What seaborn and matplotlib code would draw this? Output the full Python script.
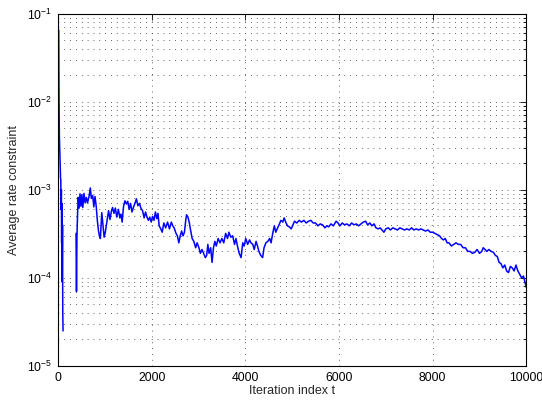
import numpy as np
import pandas as pd
import matplotlib
matplotlib.use('Agg')
import matplotlib.pyplot as plt
import matplotlib.ticker as mticker
import seaborn as sns

# first piece (before the values drop out of the log axis)
t_start = [15, 22, 30, 38, 46, 54, 60, 66, 72, 78, 84, 90, 96, 102, 108]
rate_start = [6.5e-2, 1.05e-2, 4.0e-3, 2.8e-3, 2.0e-3, 1.35e-3, 1.3e-3, 6e-4,
              1.0e-3, 2.5e-4, 7e-4, 9e-5, 4e-4, 4e-5, 2.5e-5]

# main piece
t_main = [385, 395, 405, 420, 432, 450, 470, 490, 510, 530, 555, 580, 605, 630,
          665, 690, 712, 740, 765, 790, 815, 840, 865, 890, 905, 935, 960, 985,
          1010, 1050, 1080, 1110, 1140, 1165, 1195, 1225, 1255, 1290, 1320, 1345,
          1370, 1400, 1430, 1460, 1490, 1520, 1550, 1580, 1610, 1650, 1675, 1705,
          1740, 1770, 1805, 1840, 1870, 1900, 1930, 1960, 1990, 2020, 2050, 2080,
          2110, 2135, 2160, 2195, 2225, 2260, 2300, 2340, 2380, 2420, 2450, 2480,
          2520, 2550, 2580, 2610, 2640, 2670, 2700, 2730, 2745, 2775, 2805, 2835,
          2865, 2900, 2940, 2970, 3010, 3040, 3075, 3110, 3145, 3175, 3200, 3225,
          3260, 3290, 3320, 3350, 3380, 3420, 3460, 3500, 3540, 3580, 3620, 3650,
          3690, 3730, 3770, 3800, 3840, 3870, 3910, 3945, 3975, 4010, 4050, 4090,
          4120, 4160, 4190, 4230, 4260, 4290, 4330, 4370, 4400, 4440, 4480, 4520,
          4550, 4590, 4620, 4650, 4680, 4720, 4760, 4800, 4830, 4870, 4900, 4940,
          4980, 5010, 5050, 5100, 5150, 5200, 5250, 5300, 5350, 5400, 5450, 5500,
          5550, 5600, 5650, 5700, 5740, 5780, 5830, 5880, 5940, 5980, 6020, 6070,
          6120, 6170, 6220, 6270, 6320, 6370, 6420, 6470, 6520, 6570, 6610, 6660,
          6700, 6750, 6790, 6840, 6880, 6920, 6960, 7000, 7050, 7100, 7150, 7200,
          7250, 7300, 7350, 7400, 7450, 7500, 7550, 7600, 7650, 7700, 7750, 7800,
          7850, 7900, 7950, 8000, 8050, 8100, 8150, 8190, 8230, 8270, 8310, 8350,
          8400, 8450, 8500, 8550, 8600, 8650, 8700, 8750, 8800, 8850, 8900, 8950,
          9000, 9050, 9080, 9120, 9160, 9200, 9250, 9300, 9340, 9380, 9420, 9460,
          9500, 9540, 9580, 9620, 9660, 9700, 9740, 9780, 9820, 9860, 9900, 9940,
          9970, 10000]
rate_main = [3.2e-4, 7.0e-5, 3.0e-4, 5.8e-4, 8.2e-4, 6.2e-4, 9.0e-4, 6.5e-4, 8.8e-4,
             6.3e-4, 9.1e-4, 7.1e-4, 8.2e-4, 7.1e-4, 8.5e-4, 1.05e-3, 8.0e-4, 8.6e-4,
             6.4e-4, 8.4e-4, 6.6e-4, 4.5e-4, 3.4e-4, 2.9e-4, 2.8e-4, 5.5e-4, 4.0e-4,
             2.9e-4, 3.3e-4, 4.6e-4, 5.8e-4, 4.6e-4, 5.7e-4, 6.3e-4, 5.4e-4, 6.2e-4,
             4.9e-4, 6.0e-4, 4.8e-4, 5.3e-4, 4.3e-4, 6.5e-4, 7.5e-4, 6.9e-4, 7.4e-4,
             6.0e-4, 7.0e-4, 5.6e-4, 6.3e-4, 7.2e-4, 7.9e-4, 6.6e-4, 7.0e-4, 6.2e-4,
             5.8e-4, 4.8e-4, 5.6e-4, 4.9e-4, 4.5e-4, 4.9e-4, 4.3e-4, 5.0e-4, 4.5e-4,
             5.6e-4, 4.7e-4, 5.4e-4, 3.9e-4, 3.6e-4, 3.3e-4, 4.2e-4, 3.7e-4, 4.3e-4,
             3.6e-4, 4.3e-4, 3.9e-4, 3.7e-4, 3.2e-4, 3.0e-4, 2.5e-4, 3.0e-4, 3.4e-4,
             3.0e-4, 3.3e-4, 4.6e-4, 5.2e-4, 4.9e-4, 4.2e-4, 3.4e-4, 2.8e-4, 2.6e-4,
             2.2e-4, 2.5e-4, 2.2e-4, 1.9e-4, 2.1e-4, 1.9e-4, 1.7e-4, 1.8e-4, 2.4e-4,
             1.9e-4, 2.2e-4, 1.5e-4, 2.2e-4, 2.6e-4, 2.3e-4, 2.8e-4, 2.5e-4, 2.8e-4,
             2.5e-4, 3.2e-4, 2.8e-4, 3.3e-4, 2.9e-4, 3.0e-4, 2.4e-4, 2.8e-4, 2.2e-4,
             1.9e-4, 1.7e-4, 2.5e-4, 2.3e-4, 2.8e-4, 2.4e-4, 2.7e-4, 2.5e-4, 2.4e-4,
             2.1e-4, 2.6e-4, 2.3e-4, 2.0e-4, 1.8e-4, 1.7e-4, 2.2e-4, 2.5e-4, 2.6e-4,
             2.8e-4, 2.5e-4, 3.3e-4, 3.9e-4, 3.3e-4, 3.6e-4, 4.0e-4, 4.5e-4, 4.3e-4,
             4.8e-4, 4.2e-4, 3.9e-4, 3.8e-4, 3.6e-4, 3.9e-4, 4.4e-4, 4.2e-4, 4.5e-4,
             4.3e-4, 4.5e-4, 4.2e-4, 4.4e-4, 4.5e-4, 4.2e-4, 4.2e-4, 3.9e-4, 4.1e-4,
             4.0e-4, 3.7e-4, 3.9e-4, 3.8e-4, 4.1e-4, 3.9e-4, 4.4e-4, 4.2e-4, 3.9e-4,
             4.2e-4, 4.0e-4, 4.1e-4, 3.9e-4, 4.2e-4, 4.0e-4, 4.1e-4, 3.9e-4, 4.1e-4,
             4.3e-4, 4.4e-4, 4.0e-4, 4.2e-4, 3.9e-4, 4.1e-4, 3.7e-4, 3.6e-4, 3.7e-4,
             3.5e-4, 3.3e-4, 3.6e-4, 3.7e-4, 3.5e-4, 3.7e-4, 3.6e-4, 3.5e-4, 3.7e-4,
             3.6e-4, 3.5e-4, 3.6e-4, 3.5e-4, 3.7e-4, 3.5e-4, 3.6e-4, 3.5e-4, 3.6e-4,
             3.5e-4, 3.4e-4, 3.5e-4, 3.3e-4, 3.3e-4, 3.2e-4, 3.1e-4, 3.0e-4, 2.8e-4,
             2.7e-4, 2.8e-4, 2.5e-4, 2.5e-4, 2.3e-4, 2.4e-4, 2.5e-4, 2.4e-4, 2.4e-4,
             2.2e-4, 2.2e-4, 2.0e-4, 2.0e-4, 1.9e-4, 1.95e-4, 2.1e-4, 1.9e-4, 2.0e-4,
             2.2e-4, 2.1e-4, 2.0e-4, 2.1e-4, 2.0e-4, 1.95e-4, 1.8e-4, 1.75e-4, 1.5e-4,
             1.45e-4, 1.3e-4, 1.4e-4, 1.2e-4, 1.15e-4, 1.35e-4, 1.3e-4, 1.2e-4,
             1.4e-4, 1.2e-4, 1.1e-4, 1.0e-4, 1.05e-4, 9.0e-5, 7.8e-5]

df = pd.concat([
    pd.DataFrame({'t': t_start, 'rate': rate_start, 'seg': 0}),
    pd.DataFrame({'t': t_main, 'rate': rate_main, 'seg': 1}),
])

sns.set_style('white')
plt.rcParams['font.family'] = ['Liberation Sans', 'DejaVu Sans']
plt.rcParams['mathtext.default'] = 'regular'

fig = plt.figure(figsize=(5.42, 4.0), dpi=100)
ax = fig.add_axes([0.107, 0.085, 0.864, 0.881])

sns.lineplot(data=df, x='t', y='rate', units='seg', estimator=None,
             color='#0000ff', linewidth=1.1, ax=ax)

ax.set_yscale('log')
ax.set_xlim(0, 10000)
ax.set_ylim(1e-5, 1e-1)
ax.set_xticks([0, 2000, 4000, 6000, 8000, 10000])
ax.yaxis.set_major_locator(mticker.LogLocator(base=10, numticks=10))
ax.yaxis.set_minor_locator(mticker.LogLocator(base=10, subs=np.arange(2, 10), numticks=10))
ax.yaxis.set_minor_formatter(mticker.NullFormatter())

dots = (0, (1, 6))
ax.grid(True, which='major', axis='both', color='#333333', linestyle=dots, linewidth=0.6)
ax.grid(True, which='minor', axis='y', color='#333333', linestyle=dots, linewidth=0.6)

ax.tick_params(which='both', direction='in', top=True, right=True, labelsize=8.8,
               colors='k', width=0.6)
ax.tick_params(which='major', length=4, pad=4)
ax.tick_params(which='minor', length=2)
for s in ax.spines.values():
    s.set_color('k')
    s.set_linewidth(0.8)

ax.set_xlabel('Iteration index t', fontsize=9, labelpad=1)
ax.set_ylabel('Average rate constraint', fontsize=9, labelpad=5)

plt.savefig('out.png', dpi=100)
plt.close()
